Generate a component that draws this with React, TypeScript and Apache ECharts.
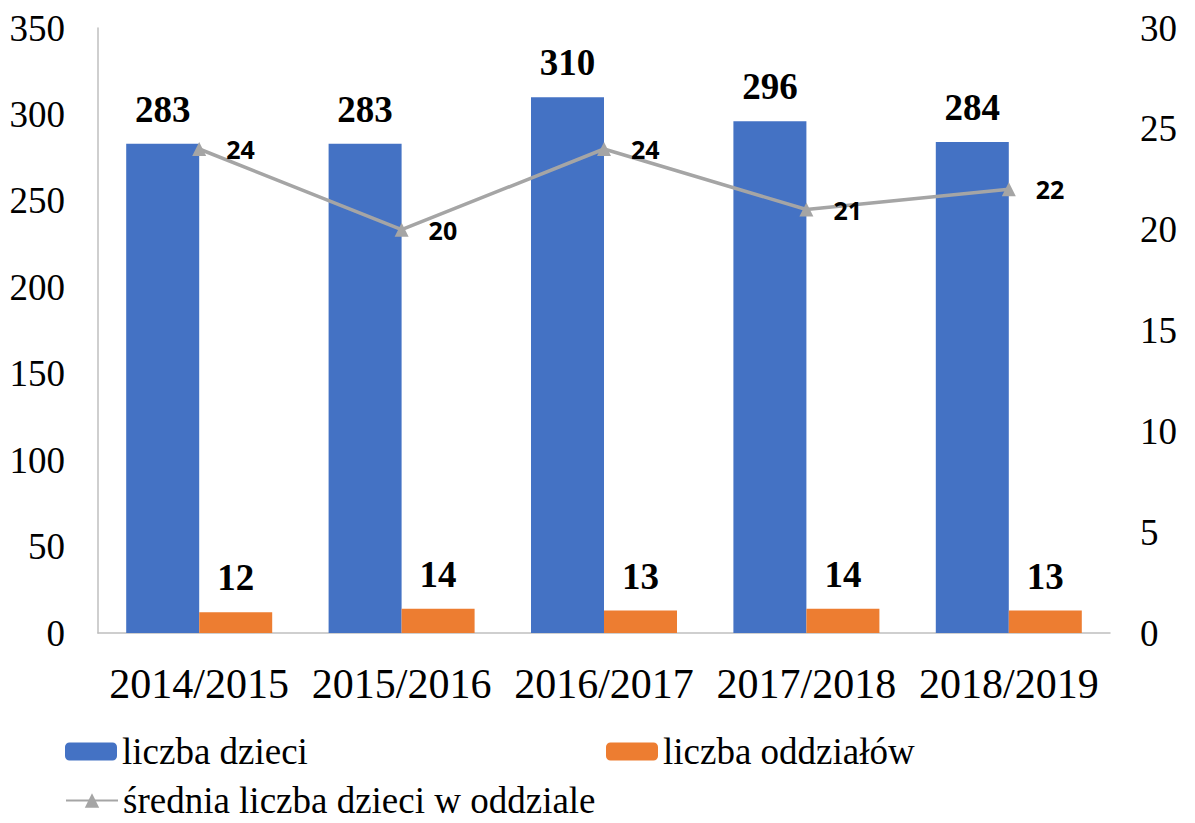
import React, { useEffect, useRef } from "react";
import * as echarts from "echarts";

const categories = ["2014/2015", "2015/2016", "2016/2017", "2017/2018", "2018/2019"];
const liczbaDzieci = [283, 283, 310, 296, 284];
const liczbaOddzialow = [12, 14, 13, 14, 13];
const sredniaLiczba = [24, 20, 24, 21, 22];
const leftTicks = { min: 0, max: 350, interval: 50 };
const rightTicks = { min: 0, max: 30, interval: 5 };

const SERIF = "'Liberation Serif', 'Times New Roman', serif";
const SANS = "'Open Sans', 'Noto Sans', sans-serif";

export default function App() {
  const ref = useRef<HTMLDivElement>(null);
  useEffect(() => {
    document.body.style.margin = "0";
    const chart = echarts.init(ref.current!, null, { renderer: "svg" });
    const legendText = { fontFamily: SERIF, fontSize: 37, color: "#000", lineHeight: 36 };
    chart.setOption({
      animation: false,
      backgroundColor: "#fff",
      grid: { left: 98, right: 85, top: 28, bottom: 190, containLabel: false },
      legend: [
        {
          data: ["liczba dzieci"],
          left: 65,
          top: 733,
          itemWidth: 52,
          itemHeight: 18,
          textStyle: legendText,
          padding: 0,
        },
        {
          data: ["liczba oddziałów"],
          left: 606,
          top: 733,
          itemWidth: 52,
          itemHeight: 18,
          textStyle: legendText,
          padding: 0,
        },
        {
          data: ["średnia liczba dzieci w oddziale"],
          left: 65,
          top: 782,
          itemWidth: 52,
          itemHeight: 18,
          textStyle: legendText,
          padding: 0,
        },
      ],
      xAxis: {
        type: "category",
        data: categories,
        axisLine: { show: true, lineStyle: { color: "#BFBFBF", width: 1.5 } },
        axisTick: { show: false },
        axisLabel: { interval: 0, fontFamily: SERIF, fontSize: 42, color: "#000", margin: 30 },
      },
      yAxis: [
        {
          type: "value",
          ...leftTicks,
          axisLine: { show: true, lineStyle: { color: "#BFBFBF", width: 1.5 } },
          axisTick: { show: false },
          splitLine: { show: false },
          axisLabel: { fontFamily: SERIF, fontSize: 37, color: "#000", margin: 33 },
        },
        {
          type: "value",
          ...rightTicks,
          axisLine: { show: false },
          axisTick: { show: false },
          splitLine: { show: false },
          axisLabel: { fontFamily: SERIF, fontSize: 37, color: "#000", margin: 30 },
        },
      ],
      series: [
        {
          name: "liczba dzieci",
          type: "bar",
          data: liczbaDzieci,
          barWidth: 73,
          barGap: "0%",
          itemStyle: { color: "#4472C4" },
          label: {
            show: true,
            position: "top",
            distance: 16,
            fontFamily: SERIF,
            fontWeight: "bold",
            fontSize: 37,
            color: "#000",
          },
        },
        {
          name: "liczba oddziałów",
          type: "bar",
          data: liczbaOddzialow,
          barWidth: 73,
          barGap: "0%",
          itemStyle: { color: "#ED7D31" },
          label: {
            show: true,
            position: "top",
            distance: 16,
            fontFamily: SERIF,
            fontWeight: "bold",
            fontSize: 37,
            color: "#000",
          },
        },
        {
          name: "średnia liczba dzieci w oddziale",
          type: "line",
          yAxisIndex: 1,
          data: sredniaLiczba,
          symbol: "triangle",
          symbolSize: 14,
          itemStyle: { color: "#A5A5A5" },
          lineStyle: { color: "#A5A5A5", width: 3.5 },
          label: {
            show: true,
            position: "right",
            distance: 20,
            fontFamily: SANS,
            fontWeight: "bold",
            fontSize: 25,
            color: "#000",
          },
        },
      ],
    });
    return () => chart.dispose();
  }, []);
  return <div ref={ref} style={{ width: 1195, height: 823 }} />;
}
